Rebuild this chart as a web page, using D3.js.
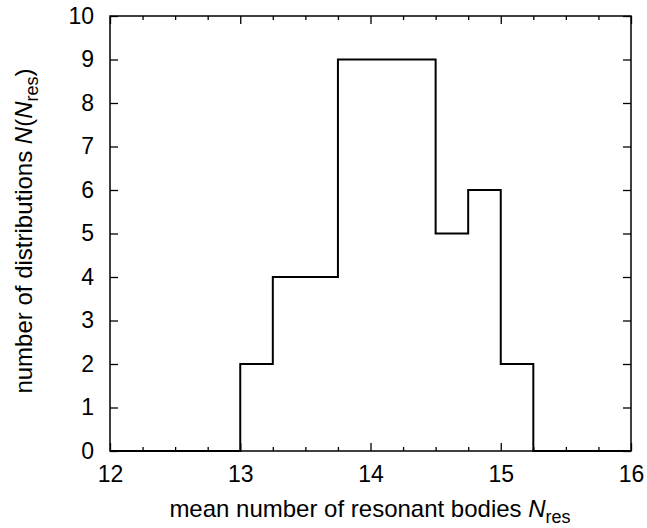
<!DOCTYPE html>
<html>
<head>
<meta charset="utf-8">
<script src="https://cdn.jsdelivr.net/npm/d3@7"></script>
<style>
  body { margin: 0; background: #fff; }
  svg { font-family: "Liberation Sans", Arial, Helvetica, sans-serif; }
</style>
</head>
<body>
<div id="chart-area"></div>
<script>
// histogram bins, width 0.25
let binStarts = [12, 12.25, 12.5, 12.75, 13, 13.25, 13.5, 13.75, 14, 14.25, 14.5, 14.75, 15, 15.25, 15.5, 15.75]
let counts = [0, 0, 0, 0, 2, 4, 4, 9, 9, 9, 5, 6, 2, 0, 0, 0]
let xTicks = [12, 13, 14, 15, 16]
let yTicks = [0, 1, 2, 3, 4, 5, 6, 7, 8, 9, 10]
let binW = 0.25

let svgW = 647;
let svgH = 528;

let margin = { left: 110, right: 16, top: 16, bottom: 77 }
let chartW = svgW - margin.left - margin.right;
let chartH = svgH - margin.top - margin.bottom;

let x = d3.scaleLinear().domain([12, 16]).range([0, chartW])
let y = d3.scaleLinear().domain([0, 10]).range([chartH, 0])

let svg = d3.select("#chart-area")
  .append("svg")
  .attr("width", svgW)
  .attr("height", svgH)

let group = svg.append('g')
  .attr("transform", `translate(${margin.left},${margin.top})`)

let minorX = d3.range(12, 16.001, 0.25).filter(v => Math.abs(v - Math.round(v)) > 1e-6)

const styleAxis = (g) => {
  g.select(".domain").remove()
  g.selectAll("line").attr("stroke", "#000").attr("stroke-width", 1.3)
  g.selectAll("text").attr("font-size", 23).attr("fill", "#000")
}

// bottom
group.append("g")
  .attr("transform", `translate(0, ${chartH})`)
  .call(d3.axisBottom(x).tickValues(xTicks).tickFormat(d3.format("d")).tickSize(-8).tickPadding(15))
  .call(styleAxis)
group.append("g")
  .attr("transform", `translate(0, ${chartH})`)
  .call(d3.axisBottom(x).tickValues(minorX).tickFormat("").tickSize(-4))
  .call(styleAxis)

// top
group.append("g")
  .call(d3.axisTop(x).tickValues(xTicks).tickFormat("").tickSize(-8))
  .call(styleAxis)
group.append("g")
  .call(d3.axisTop(x).tickValues(minorX).tickFormat("").tickSize(-4))
  .call(styleAxis)

// left
group.append("g")
  .call(d3.axisLeft(y).tickValues(yTicks).tickFormat(d3.format("d")).tickSize(-8).tickPadding(16))
  .call(styleAxis)

// right
group.append("g")
  .attr("transform", `translate(${chartW}, 0)`)
  .call(d3.axisRight(y).tickValues(yTicks).tickFormat("").tickSize(-8))
  .call(styleAxis)

// frame
group.append("rect")
  .attr("x", 0).attr("y", 0)
  .attr("width", chartW).attr("height", chartH)
  .attr("fill", "none")
  .attr("stroke", "#000")
  .attr("stroke-width", 1.5)

// step histogram
let pts = binStarts.map((b, i) => [b, counts[i]])
pts.push([binStarts[binStarts.length - 1] + binW, counts[counts.length - 1]])

let line = d3.line()
  .x(d => x(d[0]))
  .y(d => y(d[1]))
  .curve(d3.curveStepAfter)

group.append("path")
  .attr("d", line(pts))
  .attr("fill", "none")
  .attr("stroke", "#000")
  .attr("stroke-width", 2)

// x label
let xl = svg.append("text")
  .attr("x", 370)
  .attr("y", 517)
  .attr("text-anchor", "middle")
  .attr("font-size", 24)
xl.append("tspan").text("mean number of resonant bodies ")
xl.append("tspan").attr("font-style", "italic").text("N")
xl.append("tspan").attr("font-size", 18).attr("dy", 6).text("res")

// y label
let yl = svg.append("text")
  .attr("transform", `translate(32, 231) rotate(-90)`)
  .attr("text-anchor", "middle")
  .attr("font-size", 24)
yl.append("tspan").text("number of distributions ")
yl.append("tspan").attr("font-style", "italic").text("N")
yl.append("tspan").text("(")
yl.append("tspan").attr("font-style", "italic").text("N")
yl.append("tspan").attr("font-size", 18).attr("dy", 6).text("res")
yl.append("tspan").attr("dy", -6).text(")")
</script>
</body>
</html>
